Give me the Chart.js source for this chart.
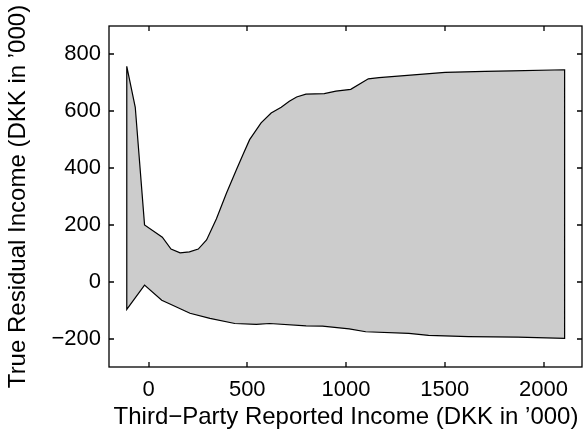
<!DOCTYPE html>
<html>
<head>
<meta charset="utf-8">
<script src="https://cdn.jsdelivr.net/npm/chart.js@4/dist/chart.umd.min.js"></script>
<style>
  html, body { margin: 0; padding: 0; background: #fff; }
  #wrap { width: 584px; height: 432px; }
</style>
</head>
<body>
<div id="wrap"><canvas id="bandChart" width="584" height="432"></canvas></div>
<script>
// upper and lower edge of the band (DKK in '000)
const upperX = [-110, -67, -20, 70, 114, 160, 207, 252, 294, 344, 395, 445, 478, 512, 570, 621, 672, 713, 750, 797, 890, 949, 1024, 1113, 1167, 1502, 1704, 1838, 2107];
const upperY = [758, 614, 200, 157, 115, 102, 105, 115, 147, 222, 312, 394, 447, 500, 559, 594, 614, 635, 650, 660, 662, 671, 677, 714, 718, 737, 740, 742, 746];
const lowerX = [-110, -20, 67, 114, 210, 311, 437, 546, 613, 798, 881, 1016, 1100, 1318, 1418, 1620, 1871, 2107];
const lowerY = [-97, -12, -65, -80, -111, -129, -147, -150, -147, -155, -156, -166, -176, -182, -189, -193, -195, -199];

const xTicks = [0, 500, 1000, 1500, 2000];
const yTicks = [-200, 0, 200, 400, 600, 800];
const xTitle = 'Third\u2212Party Reported Income (DKK in \u2019000)';
const yTitle = 'True Residual Income (DKK in \u2019000)';

// closed outline: upper left->right, lower right->left, back to start
const upperPts = upperX.map((x, i) => ({ x: x, y: upperY[i] }));
const lowerPts = lowerX.map((x, i) => ({ x: x, y: lowerY[i] })).reverse();
const outline = upperPts.concat(lowerPts, [upperPts[0]]);

const FONT = "'Liberation Sans', Arial, Helvetica, sans-serif";
const fmt = v => (v < 0 ? '\u2212' + Math.abs(v) : String(v));

// box round the plot area, inward ticks on all four sides
const frameTicks = {
  id: 'frameTicks',
  afterDraw(chart) {
    const ctx = chart.ctx;
    const a = chart.chartArea;
    const xs = chart.scales.x, ys = chart.scales.y;
    const len = 5;
    ctx.save();
    ctx.strokeStyle = '#000000';
    ctx.lineWidth = 1.3;
    ctx.strokeRect(a.left, a.top, a.right - a.left - 1, a.bottom - a.top);
    for (const v of xTicks) {
      const px = Math.round(xs.getPixelForValue(v));
      ctx.beginPath();
      ctx.moveTo(px, a.bottom); ctx.lineTo(px, a.bottom - len);
      ctx.moveTo(px, a.top); ctx.lineTo(px, a.top + len);
      ctx.stroke();
    }
    for (const v of yTicks) {
      const py = Math.round(ys.getPixelForValue(v));
      ctx.beginPath();
      ctx.moveTo(a.left, py); ctx.lineTo(a.left + len, py);
      ctx.moveTo(a.right - 1, py); ctx.lineTo(a.right - 1 - len, py);
      ctx.stroke();
    }
    ctx.restore();
  }
};

new Chart(document.getElementById('bandChart'), {
  type: 'scatter',
  data: {
    datasets: [{
      data: outline,
      showLine: true,
      fill: 'shape',
      backgroundColor: '#cccccc',
      borderColor: '#000000',
      borderWidth: 1.2,
      pointRadius: 0,
      tension: 0
    }]
  },
  options: {
    responsive: false,
    animation: false,
    layout: { padding: { top: 26, right: 1, left: 0, bottom: 0 } },
    plugins: {
      legend: { display: false },
      tooltip: { enabled: false }
    },
    scales: {
      x: {
        type: 'linear',
        min: -200,
        max: 2200,
        afterBuildTicks: s => { s.ticks = xTicks.map(v => ({ value: v })); },
        afterFit: s => { s.height = 65; },
        grid: { display: false, drawTicks: false },
        border: { display: false },
        ticks: { color: '#000', padding: 10, maxRotation: 0, font: { family: FONT, size: 22 }, callback: fmt },
        title: { display: true, text: xTitle, color: '#000', padding: { top: 0, bottom: 0 }, font: { family: FONT, size: 24 } }
      },
      y: {
        type: 'linear',
        min: -300,
        max: 900,
        afterBuildTicks: s => { s.ticks = yTicks.map(v => ({ value: v })); },
        afterFit: s => { s.width = 109; },
        grid: { display: false, drawTicks: false },
        border: { display: false },
        ticks: { color: '#000', padding: 8, font: { family: FONT, size: 22 }, callback: fmt },
        title: { display: true, text: yTitle, color: '#000', padding: { top: 4, bottom: 0 }, font: { family: FONT, size: 24 } }
      }
    }
  },
  plugins: [frameTicks]
});
</script>
</body>
</html>
